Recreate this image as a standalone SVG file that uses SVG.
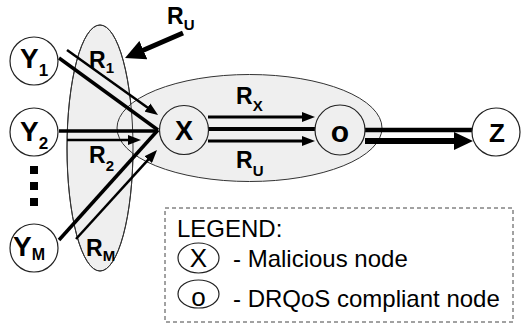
<svg xmlns="http://www.w3.org/2000/svg" width="521" height="326" viewBox="0 0 521 326">
<style>
.reg{fill:#efefef;stroke:#333;stroke-width:1}
.nd{fill:#fff;stroke:#222;stroke-width:1.2}
.ndt{fill:none;stroke:#222;stroke-width:1.2}
.lbl{font-family:"Liberation Sans",Arial,sans-serif;font-weight:bold;fill:#000}
.lg{font-family:"Liberation Sans",Arial,sans-serif;fill:#000}
.ln{stroke:#000;fill:none}
</style>
<defs>
<marker id="ah" markerUnits="userSpaceOnUse" markerWidth="13" markerHeight="10" refX="3" refY="5" orient="auto"><path d="M0,0 L13,5 L0,10 z" fill="#000"/></marker>
<marker id="ahb" markerUnits="userSpaceOnUse" markerWidth="19" markerHeight="18" refX="4" refY="9" orient="auto"><path d="M0,0 L19,9 L0,18 z" fill="#000"/></marker>
<marker id="ahu" markerUnits="userSpaceOnUse" markerWidth="20" markerHeight="20" refX="4" refY="10" orient="auto"><path d="M0,0 L20,10 L0,20 z" fill="#000"/></marker>
</defs>
<g id="regions">
<ellipse cx="100" cy="148" rx="33" ry="123" class="reg"/>
<ellipse cx="249.5" cy="128" rx="132.5" ry="53.5" class="reg"/>
<ellipse cx="100" cy="148" rx="33" ry="123" fill="none" stroke="#333" stroke-width="1"/>
</g>
<g id="connectors">
<line class="ln" x1="59" y1="58" x2="158" y2="130" stroke-width="3.5"/>
<line class="ln" x1="59" y1="131" x2="158" y2="131" stroke-width="3.5"/>
<line class="ln" x1="59" y1="240" x2="158" y2="130" stroke-width="3.5"/>
<line class="ln" x1="67" y1="50" x2="149.9" y2="109.2" stroke-width="2.5" marker-end="url(#ah)"/>
<line class="ln" x1="67" y1="140" x2="131" y2="140" stroke-width="2.5" marker-end="url(#ah)"/>
<line class="ln" x1="76" y1="239" x2="150.3" y2="157.4" stroke-width="2.5" marker-end="url(#ah)"/>
<line class="ln" x1="208" y1="117" x2="305" y2="117" stroke-width="3" marker-end="url(#ah)"/>
<line class="ln" x1="208" y1="129" x2="315" y2="129" stroke-width="4"/>
<line class="ln" x1="208" y1="141" x2="305" y2="141" stroke-width="3" marker-end="url(#ah)"/>
<line class="ln" x1="365" y1="130" x2="472" y2="130" stroke-width="4.5"/>
<line class="ln" x1="365" y1="141" x2="458" y2="141" stroke-width="6" marker-end="url(#ahb)"/>
<line class="ln" x1="183" y1="33" x2="139.7" y2="51.7" stroke-width="5" marker-end="url(#ahu)"/>
</g>
<g id="node-Y1"><circle cx="34" cy="61" r="24" class="nd"/><text class="lbl" x="20" y="68" font-size="28">Y<tspan font-size="17" dy="8">1</tspan></text></g>
<g id="node-Y2"><circle cx="34" cy="132" r="24" class="nd"/><text class="lbl" x="20" y="141" font-size="28">Y<tspan font-size="17" dy="8">2</tspan></text></g>
<g id="dots"><rect x="30" y="166" width="8" height="8"/><rect x="30" y="182" width="8" height="8"/><rect x="30" y="198" width="8" height="8"/></g>
<g id="node-YM"><circle cx="34" cy="248" r="24" class="nd"/><text class="lbl" x="13" y="256" font-size="28">Y<tspan font-size="16" dy="4">M</tspan></text></g>
<g id="node-X"><circle cx="184" cy="130" r="24.5" class="ndt"/><text class="lbl" x="184" y="140" font-size="27" text-anchor="middle">X</text></g>
<g id="node-o"><circle cx="340" cy="130" r="25" class="ndt"/><text class="lbl" x="340" y="142" font-size="30" text-anchor="middle">o</text></g>
<g id="node-Z"><circle cx="496" cy="132" r="24" class="nd"/><text class="lbl" x="497" y="142" font-size="26" text-anchor="middle">Z</text></g>
<g id="labels">
<text class="lbl" x="167" y="24" font-size="23">R<tspan font-size="15" dy="6">U</tspan></text>
<text class="lbl" x="89" y="68" font-size="23">R<tspan font-size="15" dy="5">1</tspan></text>
<text class="lbl" x="89" y="163" font-size="23">R<tspan font-size="15" dy="8">2</tspan></text>
<text class="lbl" x="86" y="256" font-size="23">R<tspan font-size="15" dy="5">M</tspan></text>
<text class="lbl" x="236" y="104" font-size="23">R<tspan font-size="15" dy="7">X</tspan></text>
<text class="lbl" x="236" y="168" font-size="23">R<tspan font-size="15" dy="8">U</tspan></text>
</g>
<g id="legend">
<rect x="165" y="208" width="348" height="114" fill="none" stroke="#444" stroke-width="1" stroke-dasharray="4,3"/>
<text class="lg" x="177" y="237" font-size="24">LEGEND:</text>
<ellipse cx="198.5" cy="258" rx="20.5" ry="15" class="ndt"/>
<text class="lg" x="198.5" y="267" font-size="26" text-anchor="middle">X</text>
<text class="lg" x="233" y="267" font-size="24">- Malicious node</text>
<ellipse cx="198.5" cy="294" rx="20.5" ry="14" class="ndt"/>
<text class="lg" x="198.5" y="306" font-size="26" text-anchor="middle">o</text>
<text class="lg" x="233" y="307" font-size="24">- DRQoS compliant node</text>
</g>
</svg>
